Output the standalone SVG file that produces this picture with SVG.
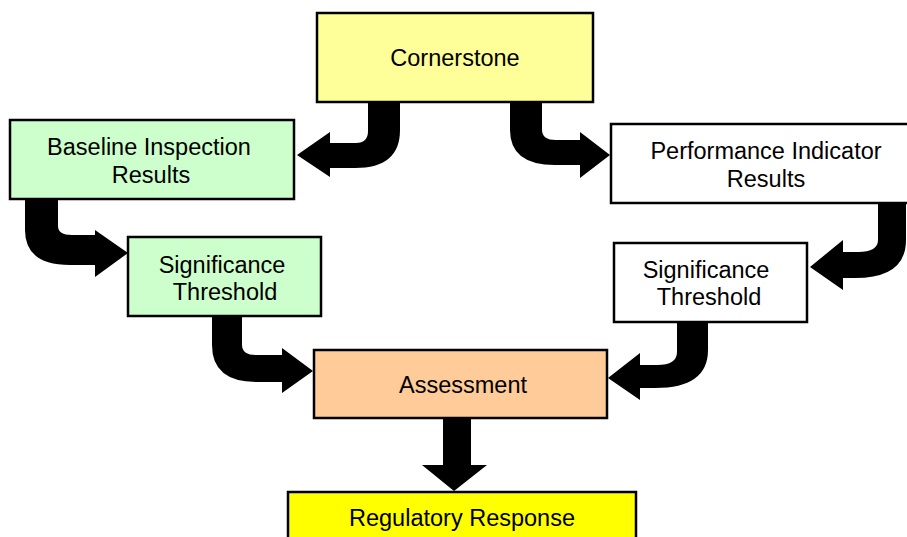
<svg xmlns="http://www.w3.org/2000/svg" width="907" height="537" viewBox="0 0 907 537">
<style>
.box{stroke:#000;stroke-width:2.5}
.t{font-family:"Liberation Sans",Arial,sans-serif;font-size:23.5px;fill:#000;text-anchor:middle}
.arr{fill:#000;stroke:none}
</style>
<rect width="907" height="537" fill="#fff"/>
<g id="connectors">
<path class="arr" d="M368,101 L368,131 Q368,143 356,143 L330,143 L330,132 L297,155 L330,177 L330,168 L355,168 Q400,168 400,130 L400,101 Z"/>
<path class="arr" d="M542,101 L542,130 Q542,140 556,140 L580,140 L580,132 L610,155 L580,178 L580,165 L555,165 Q510,165 510,130 L510,101 Z"/>
<path class="arr" d="M58,198 L58,226 Q58,235 72,235 L95,235 L95,230 L128,253 L95,277 L95,265 L70,265 Q25,265 25,230 L25,198 Z"/>
<path class="arr" d="M878,203 L878,240 Q878,252 858,252 L843,252 L843,240 L810,267 L843,290 L843,278 L855,278 Q906,278 906,240 L906,203 Z"/>
<path class="arr" d="M242,316 L242,345 Q242,355 256,355 L282,355 L282,348 L313,371 L282,393 L282,382 L257,382 Q212,382 212,345 L212,316 Z"/>
<path class="arr" d="M677,322 L677,352 Q677,365 657,365 L640,365 L640,353 L608,378 L640,400 L640,388 L655,388 Q708,388 708,350 L708,322 Z"/>
<path class="arr" d="M443,418 L443,465 L422,465 L454,491 L487,465 L471,465 L471,418 Z"/>
</g>
<g id="cornerstone">
<rect class="box" x="317" y="13" width="276" height="89" fill="#FFFF99"/>
<text class="t" x="455" y="66">Cornerstone</text>
</g>
<g id="baseline">
<rect class="box" x="10" y="120" width="284" height="79" fill="#CCFFCC"/>
<text class="t" x="149" y="155">Baseline Inspection</text>
<text class="t" x="151" y="183">Results</text>
</g>
<g id="performance">
<rect class="box" x="611" y="124" width="305" height="79" fill="#FFFFFF"/>
<text class="t" x="766" y="159">Performance Indicator</text>
<text class="t" x="766" y="187">Results</text>
</g>
<g id="sig-left">
<rect class="box" x="128" y="237" width="193" height="79" fill="#CCFFCC"/>
<text class="t" x="222" y="273">Significance</text>
<text class="t" x="225" y="300">Threshold</text>
</g>
<g id="sig-right">
<rect class="box" x="614" y="243" width="193" height="79" fill="#FFFFFF"/>
<text class="t" x="706" y="278">Significance</text>
<text class="t" x="709" y="305">Threshold</text>
</g>
<g id="assessment">
<rect class="box" x="314" y="350" width="293" height="68" fill="#FFCC99"/>
<text class="t" x="463" y="393">Assessment</text>
</g>
<g id="regulatory">
<rect class="box" x="288" y="492" width="348" height="60" fill="#FFFF00"/>
<text class="t" x="462" y="526">Regulatory Response</text>
</g>
</svg>
